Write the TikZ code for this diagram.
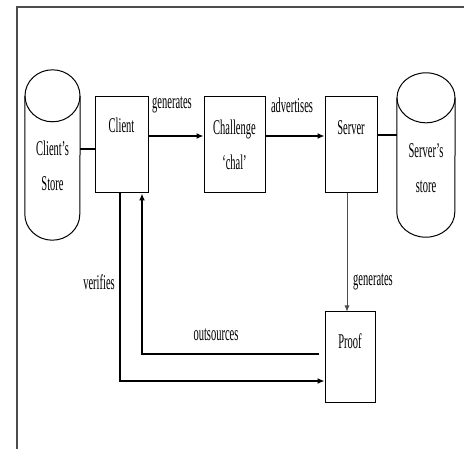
\documentclass[tikz,border=0pt]{standalone}
\usepackage{fontspec}
\setmainfont[FakeStretch=0.5]{Liberation Serif}
\usetikzlibrary{arrows.meta,calc}
\begin{document}
\begin{tikzpicture}[x=1pt,y=-1pt,
  lbl/.style={inner sep=0pt,font=\fontsize{21}{35}\selectfont,align=center},
  box/.style={draw,line width=1pt,inner sep=0pt},
  holder/.style={inner sep=0pt},
  cyl/.style={line width=1pt},
  conn/.style={line width=1.3pt},
  arr/.style={line width=1.3pt,-{Latex[length=7pt,width=6pt]}},
  thinarr/.style={line width=0.6pt,draw=black!70,-{Latex[length=6pt,width=5pt]}},
  frame/.style={line width=1.2pt,draw=black!70}]
\useasboundingbox (0,0) rectangle (464,449);
% frame (top and left edges)
\draw[frame] (464,7) -- (17,7) -- (17,449);

% boxes
\node[box,minimum width=53pt,minimum height=96pt] (client) at (121.5,145) {};
\node[box,minimum width=61pt,minimum height=96pt] (chal) at (234.5,145) {};
\node[box,minimum width=52pt,minimum height=96pt] (server) at (351,145) {};
\node[box,minimum width=50pt,minimum height=91pt] (proof) at (350,357.5) {};

% box texts
\node[lbl] (tclient) at (121.5,125) {Client};
\node[lbl] (tchal) at (234.5,145) {Challenge\\‘chal’};
\node[lbl] (tserver) at (351,128) {Server};
\node[lbl] (tproof) at (350,341) {Proof};

% stores (cylinders)
\node[holder,minimum width=55pt,minimum height=170pt] (cs) at (52.5,155) {};
\draw[cyl] ($(cs.north west)+(0,26)$) -- ($(cs.south west)+(0,-26)$)
  arc[start angle=180,end angle=0,x radius=27.5,y radius=26]
  -- ($(cs.north east)+(0,26)$);
\draw[cyl] ($(cs.north)+(0,26)$) ellipse[x radius=27.5,y radius=26];
\node[lbl] (tcs) at (52.5,165.5) {Client’s\\Store};

\node[holder,minimum width=58pt,minimum height=164pt] (ss) at (426,155) {};
\draw[cyl] ($(ss.north west)+(0,25)$) -- ($(ss.south west)+(0,-25)$)
  arc[start angle=180,end angle=0,x radius=29,y radius=25]
  -- ($(ss.north east)+(0,25)$);
\draw[cyl] ($(ss.north)+(0,25)$) ellipse[x radius=29,y radius=25];
\node[lbl] (tss) at (426,168) {Server’s\\store};

% helper coordinates
\coordinate (ly) at (0,149);
\coordinate (ay) at (0,136);
\coordinate (ry) at (0,135);
\coordinate (px) at (347,0);
\coordinate (ox) at (142,0);
\coordinate (oy) at (0,354);
\coordinate (vx) at (120,0);
\coordinate (vy) at (0,381);

% connectors
\draw[conn] (cs.east |- ly) -- (client.west |- ly);
\draw[arr] (client.east |- ay) -- (chal.west |- ay);
\draw[arr] (chal.east |- ay) -- (server.west |- ay);
\draw[conn] (server.east |- ry) -- (ss.west |- ry);
\draw[thinarr] (server.south -| px) -- (proof.north -| px);
\draw[arr] ([xshift=-6pt]proof.west |- oy) -| (client.south -| ox);
\draw[arr] (client.south -| vx) |- (proof.west |- vy);

% connector labels
\node[lbl] (lgen1) at (172,105) {generates};
\node[lbl] (ladv) at (292,105) {advertises};
\node[lbl] (lgen2) at (373,282) {generates};
\node[lbl] (lver) at (99,282) {verifies};
\node[lbl] (lout) at (216,335) {outsources};
\end{tikzpicture}
\end{document}
